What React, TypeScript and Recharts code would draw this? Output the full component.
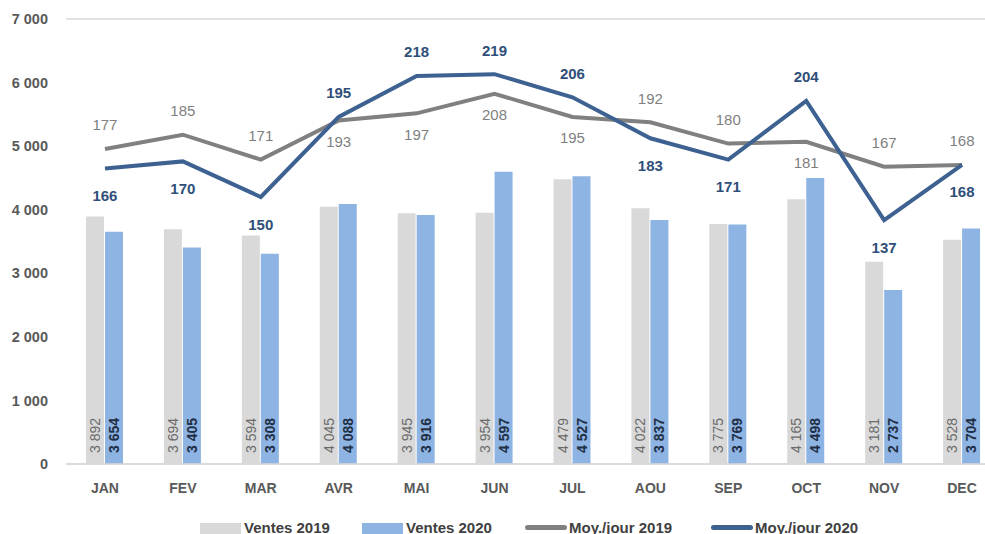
import React from 'react';
import { ComposedChart, Bar, Line, XAxis, YAxis, CartesianGrid, LabelList } from 'recharts';

const months = ['JAN', 'FEV', 'MAR', 'AVR', 'MAI', 'JUN', 'JUL', 'AOU', 'SEP', 'OCT', 'NOV', 'DEC'];
const ventes2019 = [3892, 3694, 3594, 4045, 3945, 3954, 4479, 4022, 3775, 4165, 3181, 3528];
const ventes2020 = [3654, 3405, 3308, 4088, 3916, 4597, 4527, 3837, 3769, 4498, 2737, 3704];
const moy2019 = [177, 185, 171, 193, 197, 208, 195, 192, 180, 181, 167, 168];
const moy2020 = [166, 170, 150, 195, 218, 219, 206, 183, 171, 204, 137, 168];
const yTicks = [0, 1000, 2000, 3000, 4000, 5000, 6000, 7000];

const data = months.map((m, i) => ({
  month: m,
  v2019: ventes2019[i],
  v2020: ventes2020[i],
  m2019: moy2019[i],
  m2020: moy2020[i],
}));

const FONT = '"Liberation Sans", Arial, sans-serif';
const C_GREY_BAR = '#d9d9d9';
const C_BLUE_BAR = '#8eb4e3';
const C_GREY_LINE = '#808080';
const C_BLUE_LINE = '#3d6291';

const fmt = (n: number) => String(n).replace(/\B(?=(\d{3})+(?!\d))/g, ' ');

const barLabel = (color: string, weight: string) => (props: any) => {
  const { x, y, width, height, value } = props;
  const cx = Number(x) + Number(width) / 2;
  const by = Number(y) + Number(height) - 11;
  return (
    <text
      x={cx}
      y={by}
      transform={`rotate(-90, ${cx}, ${by})`}
      textAnchor="start"
      dominantBaseline="central"
      fontFamily={FONT}
      fontSize={14}
      fontWeight={weight}
      fill={color}
    >
      {fmt(Number(value))}
    </text>
  );
};

const lineLabel = (series: 'g' | 'b') => (props: any) => {
  const { x, y, value, index } = props;
  const i = typeof index === 'number' ? index : 0;
  const greyAbove = moy2019[i] >= moy2020[i];
  const above = series === 'g' ? greyAbove : !greyAbove;
  const dy = above ? -24 : series === 'g' ? 21 : 27;
  return (
    <text
      x={x}
      y={Number(y) + dy}
      textAnchor="middle"
      dominantBaseline="central"
      fontFamily={FONT}
      fontSize={15}
      fontWeight={series === 'g' ? 'normal' : 'bold'}
      fill={series === 'g' ? '#7f7f7f' : '#2f4f7a'}
    >
      {value}
    </text>
  );
};

const legendItems = [
  { label: 'Ventes 2019', type: 'rect', color: C_GREY_BAR, left: 200 },
  { label: 'Ventes 2020', type: 'rect', color: C_BLUE_BAR, left: 362 },
  { label: 'Moy./jour 2019', type: 'line', color: C_GREY_LINE, left: 525 },
  { label: 'Moy./jour 2020', type: 'line', color: C_BLUE_LINE, left: 711 },
];

export default function App() {
  return (
    <div style={{ position: 'absolute', left: 0, top: 0, width: 985, height: 534, overflow: 'hidden', background: '#fff' }}>
      <ComposedChart
        width={1001}
        height={534}
        data={data}
        margin={{ top: 19, right: 0, bottom: 30, left: 0 }}
        barSize={18}
        barGap={1}
      >
        <CartesianGrid vertical={false} stroke="#d9d9d9" strokeWidth={1.5} />
        <XAxis
          dataKey="month"
          height={40}
          axisLine={{ stroke: '#d9d9d9', strokeWidth: 1.5 }}
          tickLine={false}
          tickSize={0}
          tickMargin={19}
          tick={{ fill: '#595959', fontSize: 14, fontWeight: 'bold', fontFamily: FONT }}
        />
        <YAxis
          yAxisId="left"
          width={66}
          domain={[0, 7000]}
          ticks={yTicks}
          tickFormatter={fmt}
          axisLine={false}
          tickLine={false}
          tickSize={0}
          tickMargin={18}
          tick={{ fill: '#595959', fontSize: 14.5, fontWeight: 'bold', fontFamily: FONT }}
        />
        <YAxis yAxisId="right" orientation="right" hide domain={[0, 250]} />
        <Bar yAxisId="left" dataKey="v2019" fill={C_GREY_BAR} isAnimationActive={false}>
          <LabelList dataKey="v2019" content={barLabel('#6b6b6b', 'normal')} />
        </Bar>
        <Bar yAxisId="left" dataKey="v2020" fill={C_BLUE_BAR} isAnimationActive={false}>
          <LabelList dataKey="v2020" content={barLabel('#1f2f45', 'bold')} />
        </Bar>
        <Line
          yAxisId="right"
          type="linear"
          dataKey="m2019"
          stroke={C_GREY_LINE}
          strokeWidth={4}
          dot={false}
          isAnimationActive={false}
        >
          <LabelList dataKey="m2019" content={lineLabel('g')} />
        </Line>
        <Line
          yAxisId="right"
          type="linear"
          dataKey="m2020"
          stroke={C_BLUE_LINE}
          strokeWidth={4}
          dot={false}
          isAnimationActive={false}
        >
          <LabelList dataKey="m2020" content={lineLabel('b')} />
        </Line>
      </ComposedChart>
      {legendItems.map((it) => (
        <div
          key={it.label}
          style={{
            position: 'absolute',
            left: it.left,
            top: 518,
            display: 'flex',
            alignItems: 'center',
            fontFamily: FONT,
            fontSize: 15,
            fontWeight: 'bold',
            color: '#404040',
            whiteSpace: 'nowrap',
            height: 18,
          }}
        >
          {it.type === 'rect' ? (
            <div style={{ width: 41, height: 14, background: it.color, marginRight: 3, marginTop: 6 }} />
          ) : (
            <div style={{ width: 42, height: 5, background: it.color, borderRadius: 3, marginRight: 2 }} />
          )}
          <span>{it.label}</span>
        </div>
      ))}
    </div>
  );
}
